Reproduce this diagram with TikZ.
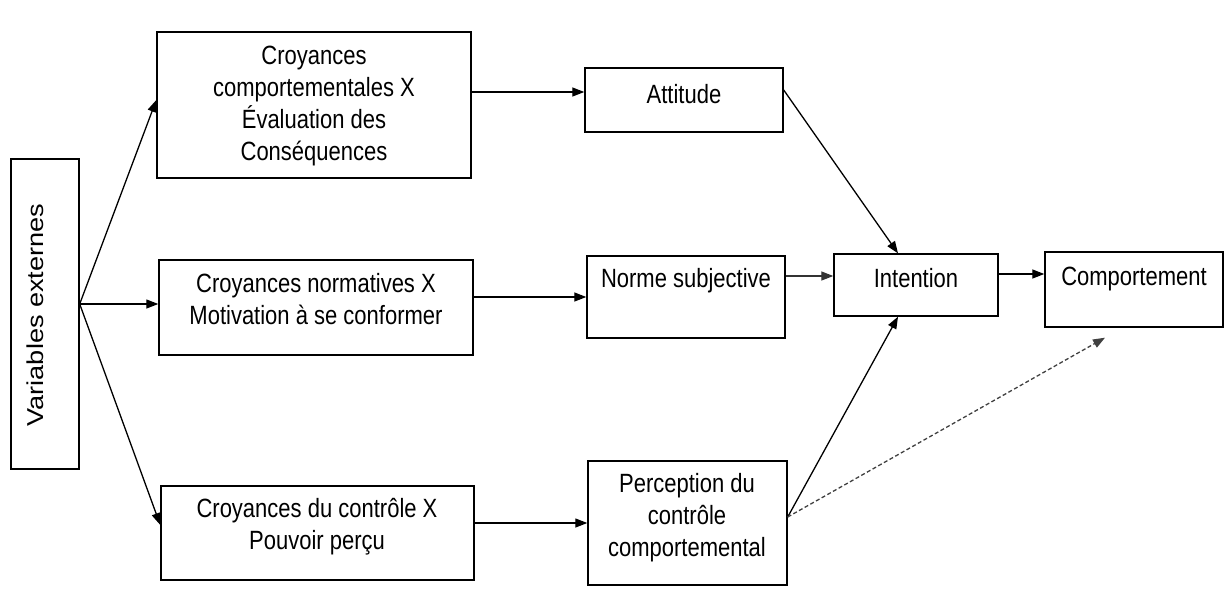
\documentclass[tikz,border=0pt]{standalone}
\usepackage{fontspec}
\setmainfont{Liberation Sans}
\usepackage{graphicx}
\usetikzlibrary{arrows.meta}
\newcommand{\tx}[1]{\scalebox{1}[1.2]{\begin{tabular}{@{}c@{}}#1\end{tabular}}}
\begin{document}
\begin{tikzpicture}[x=1pt,y=-1pt,
  box/.style={draw, line width=1.4pt, inner sep=0pt},
  lbl/.style={inner sep=0pt, font=\fontsize{22}{26.4}\selectfont},
  arr/.style={-{Triangle[length=12pt,width=9pt]}, line width=1.3pt},
  darr/.style={arr, dash pattern=on 4pt off 2.5pt, draw=black!75}
]
\useasboundingbox (0,0) rectangle (1228,603);
% boxes
\node[box, minimum width=68pt, minimum height=310pt] (ve) at (45,314) {};
\node[lbl, rotate=90] (vet) at (35,315) {\scalebox{1.18}[1]{\fontsize{23}{27}\selectfont Variables externes}};

\node[box, minimum width=314pt, minimum height=146pt] (b1) at (314,105) {};
\node[lbl] (b1t) at (314,106) {\tx{Croyances\\comportementales X\\Évaluation des\\Conséquences}};

\node[box, minimum width=314pt, minimum height=95pt] (b2) at (316,307.5) {};
\node[lbl] (b2t) at (316,302) {\tx{Croyances normatives X\\Motivation à se conformer}};

\node[box, minimum width=313pt, minimum height=94pt] (b3) at (317.5,533) {};
\node[lbl] (b3t) at (317,527) {\tx{Croyances du contrôle X\\Pouvoir perçu}};

\node[box, minimum width=198pt, minimum height=64pt] (att) at (684,100) {};
\node[lbl] (attt) at (684,97) {\tx{Attitude}};

\node[box, minimum width=198pt, minimum height=82pt] (norme) at (686,297) {};
\node[lbl] (normet) at (686,281) {\tx{Norme subjective}};

\node[box, minimum width=199pt, minimum height=124pt] (perc) at (687.5,523) {};
\node[lbl] (perct) at (687,518) {\tx{Perception du\\contrôle\\comportemental}};

\node[box, minimum width=164pt, minimum height=62pt] (int) at (916,285) {};
\node[lbl] (intt) at (916,281) {\tx{Intention}};

\node[box, minimum width=178pt, minimum height=75pt] (comp) at (1134,289.5) {};
\node[lbl] (compt) at (1134,279) {\tx{Comportement}};

% coordinates
\coordinate (vo) at ([yshift=10pt]ve.east);
\coordinate (b1in) at ([yshift=5pt]b1.west);
\coordinate (b3in) at ([yshift=8pt]b3.west);
\coordinate (attin) at ([yshift=8pt]att.west);
\coordinate (attout) at ([yshift=10pt]att.east);
\coordinate (normeout) at ([yshift=21pt]norme.east);
\coordinate (percout) at ([yshift=6pt]perc.east);
\coordinate (intout) at ([yshift=11pt]int.east);
\coordinate (compend) at ([xshift=-29pt,yshift=-10pt]comp.south);

% connectors
\draw[arr] (vo) -- (b1in);
\draw[arr] (vo) -- (b2.west |- vo);
\draw[arr] (vo) -- (b3in);
\draw[arr] (b1.east |- attin) -- (attin);
\draw[arr] (b2.east |- norme.west) -- (norme.west);
\draw[arr] (b3.east |- perc.west) -- (perc.west);
\draw[arr] (attout) -- ([xshift=-18pt]int.north);
\draw[arr, draw=black!80] (normeout) -- (int.west |- normeout);
\draw[arr] (percout) -- ([xshift=-18pt]int.south);
\draw[arr] (intout) -- (comp.west |- intout);
\draw[darr] (percout) -- (compend);
\end{tikzpicture}
\end{document}
